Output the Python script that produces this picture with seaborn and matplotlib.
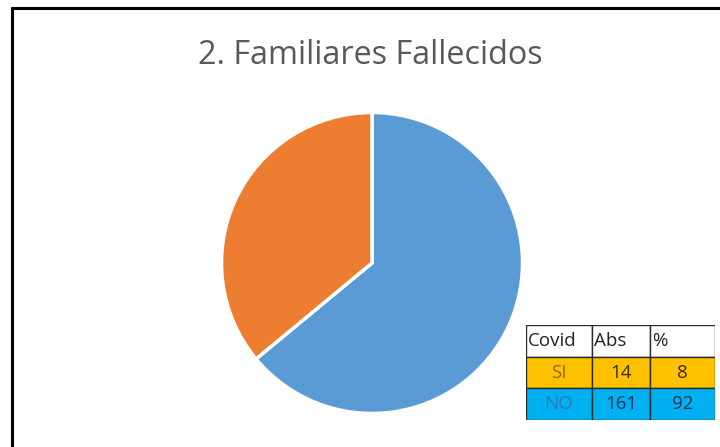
import matplotlib
matplotlib.use("Agg")
import matplotlib.pyplot as plt
from matplotlib.patches import Rectangle
import seaborn as sns

# Pie slices (clockwise from 12 o'clock)
slice_labels = ["NO", "SI"]
slice_values = [64, 36]
slice_colors = ["#5B9BD5", "#ED7D31"]

# Summary table
table_header = ["Covid", "Abs", "%"]
table_rows = ["SI", "NO"]
abs_values = [14, 161]
pct_values = [8, 92]

sns.set_theme(style="white")
plt.rcParams["font.family"] = ["Open Sans", "DejaVu Sans"]

W, H = 720, 447
fig = plt.figure(figsize=(W / 100, H / 100), dpi=100)
fig.patch.set_facecolor("white")

def box(x0, y0, x1, y1):
    """Pixel box (top-left origin) -> figure fraction rect."""
    return [x0 / W, 1 - y1 / H, (x1 - x0) / W, (y1 - y0) / H]

# Chart frame: top and left edges
fig.add_artist(plt.Line2D([12 / W, 1.01], [1 - 8 / H, 1 - 8 / H],
                          color="black", lw=2.2, transform=fig.transFigure))
fig.add_artist(plt.Line2D([12 / W, 12 / W], [1 - 8 / H, -0.01],
                          color="black", lw=2.2, transform=fig.transFigure))

fig.text(370 / W, 1 - 55 / H, "2. Familiares Fallecidos", ha="center", va="center",
         fontsize=23.3, color="#595959")

# Pie
ax = fig.add_axes(box(220, 111, 524, 415))
ax.pie(slice_values, colors=slice_colors, startangle=90, counterclock=False,
       radius=1, wedgeprops=dict(edgecolor="white", linewidth=2.5))
ax.set_xlim(-1.01, 1.01)
ax.set_ylim(-1.01, 1.01)
ax.set_aspect("equal")
ax.axis("off")

# Table
tx = fig.add_axes(box(526, 325, 715, 420))
tx.set_xlim(526, 715)
tx.set_ylim(420, 325)
tx.axis("off")
col_edges = [526, 592, 650, 715]
row_edges = [325, 357, 388, 420]
row_fill = ["white", "#FFC000", "#00B0F0"]
label_color = {"SI": "#8C6D00", "NO": "#2A78C0"}
value_color = {"SI": "#3D2E00", "NO": "#12365E"}

rows = [table_header] + [[r, str(a), str(p)] for r, a, p in zip(table_rows, abs_values, pct_values)]
for i, row in enumerate(rows):
    y0, y1 = row_edges[i], row_edges[i + 1]
    for j, txt in enumerate(row):
        x0, x1 = col_edges[j], col_edges[j + 1]
        tx.add_patch(Rectangle((x0, y0), x1 - x0, y1 - y0, facecolor=row_fill[i],
                               edgecolor="#2b2b2b", lw=1.0))
        if i == 0:
            tx.text(x0 + 2, (y0 + y1) / 2, txt, ha="left", va="center",
                    fontsize=13.5, color="#222222")
        else:
            name = table_rows[i - 1]
            c = label_color[name] if j == 0 else value_color[name]
            tx.text((x0 + x1) / 2, (y0 + y1) / 2, txt, ha="center", va="center",
                    fontsize=13.5, color=c)

fig.savefig("out.png", dpi=100, facecolor="white")
